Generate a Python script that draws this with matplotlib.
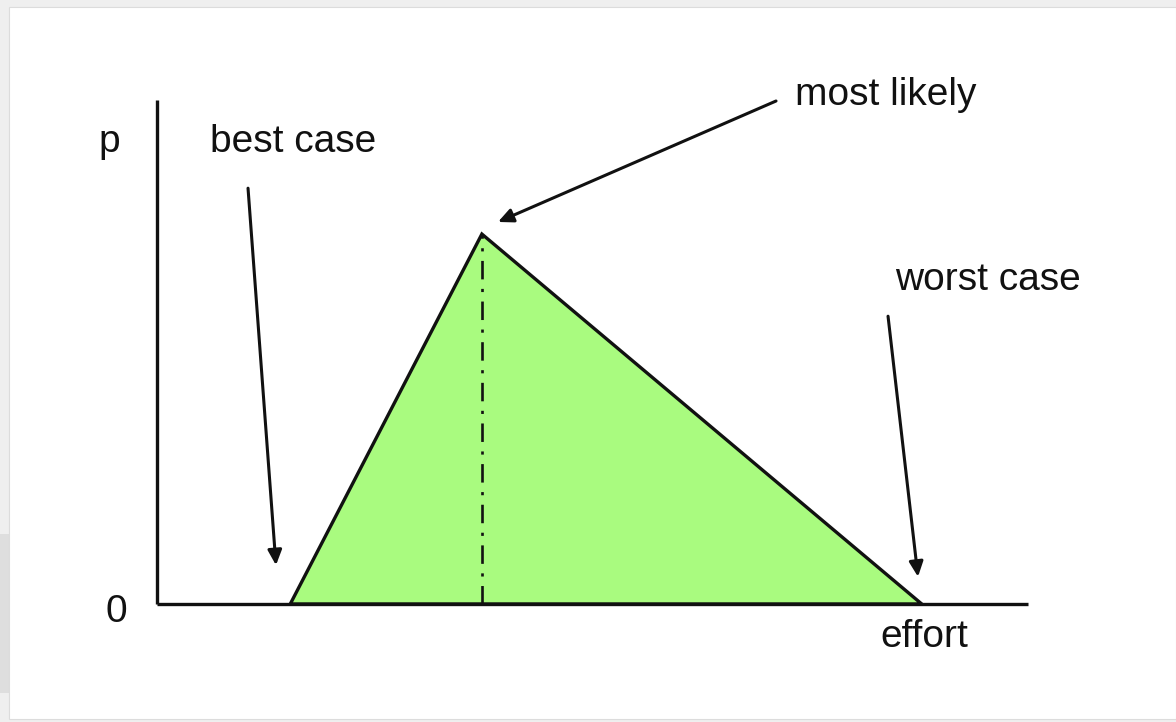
import matplotlib
matplotlib.use("Agg")
import matplotlib.pyplot as plt
from matplotlib.patches import Rectangle

# triangular effort distribution (axis units: effort 0..10, p 0..1)
effort_points = [1.53, 3.73, 8.78]   # best case, most likely, worst case
p_points = [0.0, 0.734, 0.0]
effort_max = 10.0
p_max = 1.0

labels = ["best case", "most likely", "worst case"]
axis_labels = ["p", "0", "effort"]

green = "#a9fb7f"
ink = "#111111"
font = "Liberation Sans"

fig = plt.figure(figsize=(11.76, 7.22), dpi=100)
fig.patch.set_facecolor("#efefef")

# white slide panel with a soft shadow on the lower left
fig.patches.append(Rectangle((0, 0.04), 0.008, 0.22, transform=fig.transFigure,
                             facecolor="#dedede", edgecolor="none", zorder=-3))
fig.patches.append(Rectangle((9 / 1176, 3 / 722), 1 - 9 / 1176, 1 - 10 / 722,
                             transform=fig.transFigure, facecolor="white",
                             edgecolor="#dcdcdc", linewidth=0.8, zorder=-2))

ax = fig.add_axes([157 / 1176, 118 / 722, 871 / 1176, 504 / 722])
ax.set_facecolor("none")
ax.set_xlim(0, effort_max)
ax.set_ylim(0, p_max)
for side in ["top", "right"]:
    ax.spines[side].set_visible(False)
for side in ["left", "bottom"]:
    ax.spines[side].set_linewidth(2.4)
    ax.spines[side].set_color(ink)
    ax.spines[side].set_capstyle("butt")
ax.set_xticks([])
ax.set_yticks([])

ax.fill(effort_points, p_points, facecolor=green, edgecolor=ink,
        linewidth=2.4, joinstyle="miter", clip_on=False, zorder=2)
ax.plot([effort_points[1], effort_points[1]], [0, p_points[1]], color=ink,
        linewidth=1.9, linestyle=(0, (7.0, 3.6, 1.2, 3.6)), zorder=3)

txt = dict(fontsize=28, family=font, color=ink, clip_on=False)
ax.text(-0.677, 0.897, axis_labels[0], ha="left", va="baseline", **txt)
ax.text(-0.47, -0.036, axis_labels[1], ha="center", va="baseline", **txt)
ax.text(8.31, -0.085, axis_labels[2], ha="left", va="baseline", **txt)

ax.text(0.61, 0.897, labels[0], ha="left", va="baseline", **txt)
ax.text(7.33, 0.990, labels[1], ha="left", va="baseline", **txt)
ax.text(8.47, 0.623, labels[2], ha="left", va="baseline", **txt)

arrow = dict(arrowstyle="-|>,head_length=0.9,head_width=0.42", color=ink,
             linewidth=2.2, shrinkA=0, shrinkB=0)
ax.annotate("", xy=(effort_points[0] - 0.164, 0.077), xytext=(1.045, 0.825),
            arrowprops=arrow, annotation_clip=False)
ax.annotate("", xy=(effort_points[1] + 0.185, p_points[1] + 0.024),
            xytext=(7.107, 0.998), arrowprops=arrow, annotation_clip=False)
ax.annotate("", xy=(effort_points[2] - 0.043, 0.054), xytext=(8.393, 0.571),
            arrowprops=arrow, annotation_clip=False)

fig.savefig("out.png", dpi=100, facecolor=fig.get_facecolor())
